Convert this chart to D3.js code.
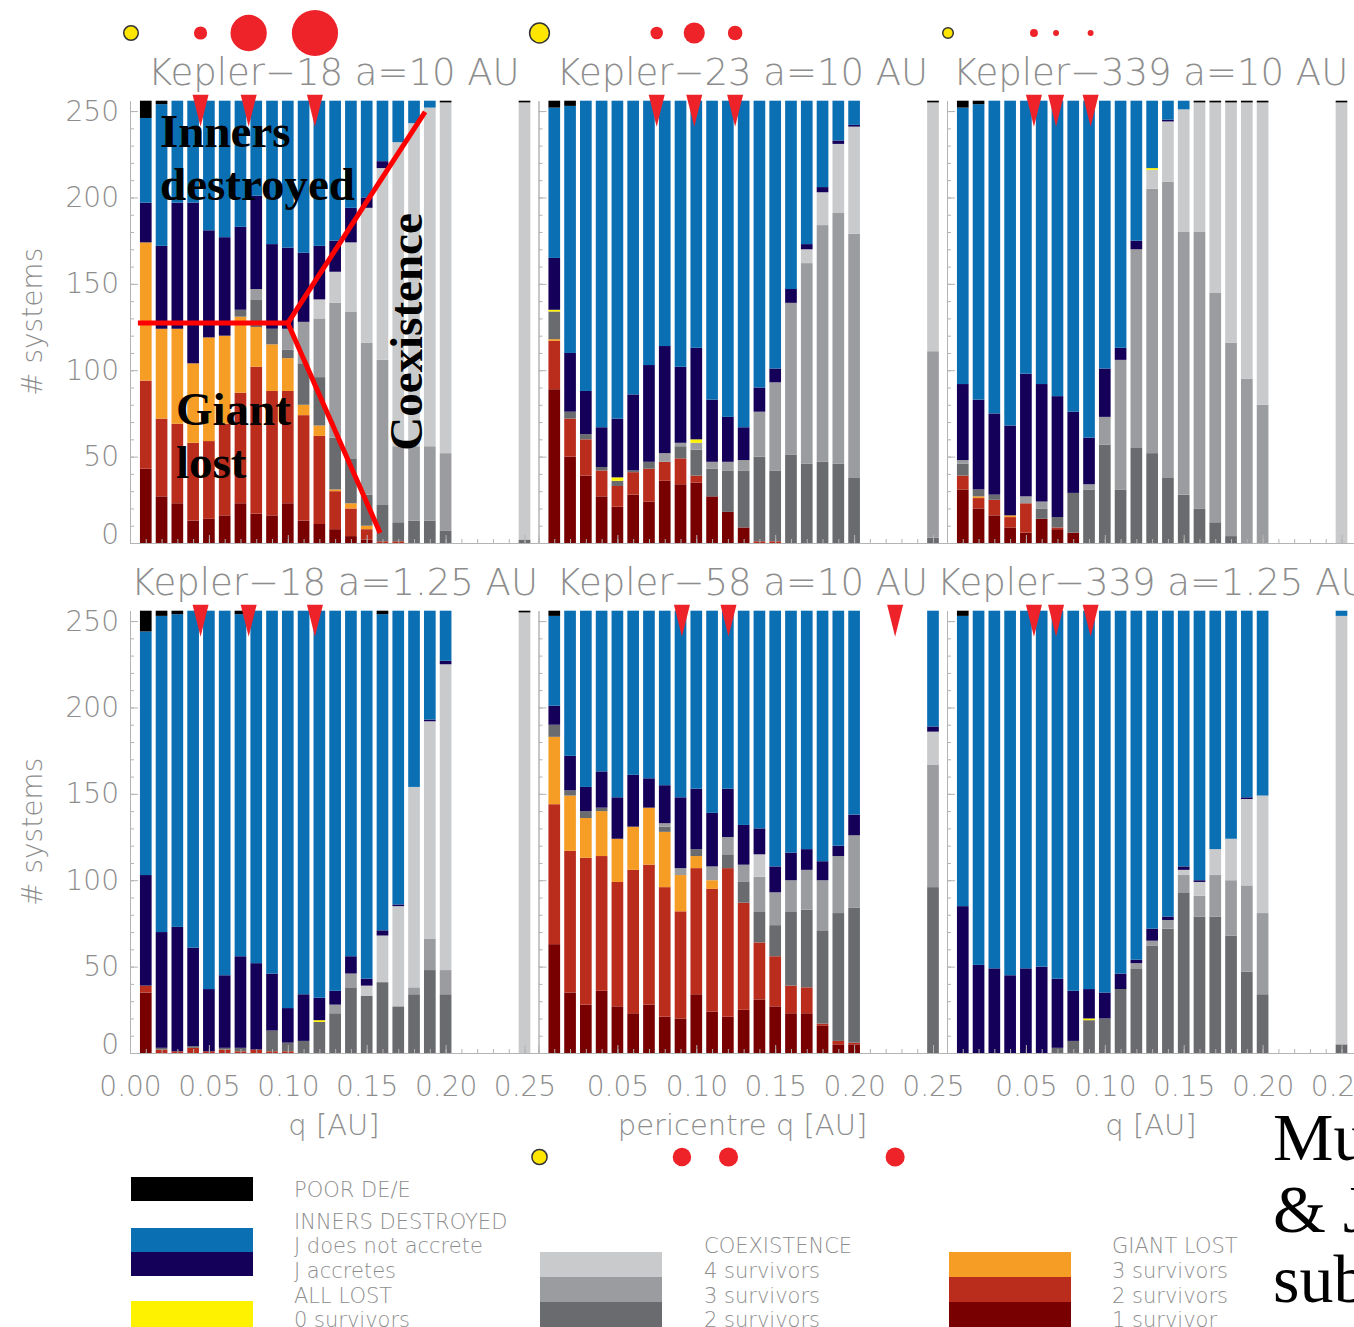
<!DOCTYPE html>
<html>
<head>
<meta charset="utf-8">
<script src="https://cdn.jsdelivr.net/npm/d3@7"></script>
<style>
	body { margin: 0; background: #fff; }
	svg { display: block; }
</style>
</head>
<body>
<div id="chart"></div>
<script>
// bins in pericentre q [AU]; the last one is the separate reference bar
const qBins = [0.01, 0.02, 0.03, 0.04, 0.05, 0.06, 0.07, 0.08, 0.09, 0.10,
	0.11, 0.12, 0.13, 0.14, 0.15, 0.16, 0.17, 0.18, 0.19, 0.20, 0.25];

// stack order, bottom to top
const keys = ['giant1', 'giant2', 'giant3', 'coex2', 'coex3', 'coex4', 'allLost', 'jAccretes', 'jNoAccrete', 'poor'];

const yTicks = [0, 50, 100, 150, 200, 250];
const xTicks = [0, 0.05, 0.10, 0.15, 0.20, 0.25];

// number of systems per bin: [giant1, giant2, giant3, coex2, coex3, coex4, allLost, jAccretes, jNoAccrete, poor]
const k18a10 = [
	[43, 51, 80, 0, 0, 0, 0, 23, 49, 10],
	[27, 45, 52, 0, 0, 0, 0, 48, 82, 2],
	[23, 46, 55, 0, 0, 0, 0, 73, 59, 0],
	[13, 45, 46, 0, 0, 0, 0, 93, 59, 0],
	[14, 45, 60, 0, 0, 0, 0, 62, 75, 0],
	[16, 53, 51, 0, 0, 0, 0, 57, 79, 0],
	[23, 64, 44, 4, 0, 0, 0, 48, 73, 0],
	[17, 85, 23, 16, 6, 0, 0, 54, 55, 0],
	[16, 72, 27, 9, 0, 0, 0, 49, 83, 0],
	[23, 65, 19, 5, 12, 0, 0, 47, 85, 0],
	[13, 61, 6, 24, 24, 0, 0, 40, 88, 0],
	[11, 51, 6, 28, 34, 11, 0, 31, 84, 0],
	[8, 22, 1, 30, 78, 18, 0, 18, 81, 0],
	[4, 16, 3, 26, 85, 40, 0, 20, 62, 0],
	[2, 6, 2, 18, 88, 78, 0, 6, 56, 0],
	[0, 1, 0, 21, 84, 111, 0, 4, 35, 0],
	[0, 1, 0, 11, 44, 176, 0, 0, 24, 0],
	[0, 0, 0, 13, 43, 187, 0, 0, 13, 0],
	[0, 0, 0, 13, 43, 196, 0, 0, 4, 0],
	[0, 0, 0, 7, 45, 203, 0, 0, 0, 1],
	[0, 0, 0, 2, 0, 253, 0, 0, 0, 1]
];
const k23a10 = [
	[89, 28, 1, 16, 0, 0, 1, 30, 87, 4],
	[50, 22, 0, 4, 0, 0, 0, 34, 143, 3],
	[39, 21, 0, 3, 0, 0, 0, 25, 168, 0],
	[27, 15, 0, 2, 0, 0, 0, 23, 189, 0],
	[21, 12, 0, 3, 0, 0, 2, 34, 184, 0],
	[28, 13, 0, 1, 0, 0, 0, 44, 170, 0],
	[24, 19, 0, 4, 0, 0, 0, 56, 153, 0],
	[36, 11, 0, 0, 5, 0, 0, 62, 142, 0],
	[34, 15, 0, 7, 2, 0, 0, 44, 154, 0],
	[35, 4, 0, 15, 4, 0, 2, 53, 143, 0],
	[27, 0, 0, 16, 4, 0, 0, 36, 173, 0],
	[18, 0, 0, 24, 5, 0, 0, 26, 183, 0],
	[9, 0, 0, 33, 6, 0, 0, 19, 189, 0],
	[0, 1, 0, 49, 26, 0, 0, 14, 166, 0],
	[0, 1, 0, 41, 51, 0, 0, 8, 155, 0],
	[0, 0, 0, 51, 88, 0, 0, 8, 109, 0],
	[0, 0, 0, 46, 116, 8, 0, 3, 83, 0],
	[0, 0, 0, 47, 137, 19, 0, 3, 50, 0],
	[0, 0, 0, 46, 145, 40, 0, 2, 23, 0],
	[0, 0, 0, 38, 141, 62, 0, 1, 14, 0],
	[0, 0, 0, 3, 108, 144, 0, 0, 0, 1]
];
const k339a10 = [
	[31, 8, 0, 7, 2, 0, 0, 44, 160, 4],
	[20, 6, 1, 4, 0, 0, 0, 52, 171, 2],
	[16, 9, 0, 3, 0, 0, 0, 47, 181, 0],
	[9, 6, 1, 0, 0, 0, 0, 52, 188, 0],
	[6, 17, 0, 0, 4, 0, 0, 71, 158, 0],
	[14, 0, 0, 6, 4, 0, 0, 68, 164, 0],
	[8, 1, 0, 6, 0, 0, 0, 70, 171, 0],
	[6, 0, 0, 23, 0, 0, 0, 47, 180, 0],
	[0, 0, 0, 31, 3, 0, 0, 27, 195, 0],
	[0, 0, 0, 57, 16, 0, 0, 28, 155, 0],
	[0, 0, 0, 31, 75, 0, 0, 7, 143, 0],
	[0, 0, 0, 55, 115, 0, 0, 5, 81, 0],
	[0, 0, 0, 52, 153, 11, 1, 0, 39, 0],
	[0, 0, 0, 38, 171, 35, 0, 1, 11, 0],
	[0, 0, 0, 28, 152, 71, 0, 0, 5, 0],
	[0, 0, 0, 20, 160, 75, 0, 0, 0, 1],
	[0, 0, 0, 12, 133, 110, 0, 0, 0, 1],
	[0, 0, 0, 4, 112, 139, 0, 0, 0, 1],
	[0, 0, 0, 0, 95, 160, 0, 0, 0, 1],
	[0, 0, 0, 0, 80, 175, 0, 0, 0, 1],
	[0, 0, 0, 0, 0, 255, 0, 0, 0, 1]
];
const k18a125 = [
	[35, 4, 0, 0, 0, 0, 0, 64, 141, 12],
	[0, 2, 0, 1, 0, 0, 0, 67, 183, 3],
	[0, 1, 0, 0, 0, 0, 0, 72, 181, 2],
	[0, 3, 0, 1, 0, 0, 0, 57, 195, 0],
	[0, 1, 0, 0, 0, 0, 0, 36, 219, 0],
	[0, 2, 0, 1, 0, 0, 0, 42, 211, 0],
	[0, 1, 0, 2, 0, 0, 0, 53, 198, 2],
	[0, 2, 0, 0, 0, 0, 0, 50, 204, 0],
	[0, 1, 0, 12, 0, 0, 0, 33, 210, 0],
	[0, 1, 0, 5, 0, 0, 0, 20, 230, 0],
	[0, 0, 0, 7, 0, 0, 0, 27, 222, 0],
	[0, 0, 0, 18, 0, 0, 1, 13, 224, 0],
	[0, 0, 0, 23, 5, 0, 0, 8, 220, 0],
	[0, 0, 0, 38, 8, 0, 0, 10, 200, 0],
	[0, 0, 0, 33, 0, 6, 0, 4, 213, 0],
	[0, 0, 0, 41, 0, 27, 0, 3, 183, 2],
	[0, 0, 0, 27, 0, 58, 0, 1, 170, 0],
	[0, 0, 0, 34, 4, 116, 0, 0, 102, 0],
	[0, 0, 0, 48, 18, 126, 0, 1, 63, 0],
	[0, 0, 0, 34, 14, 177, 0, 2, 29, 0],
	[0, 0, 0, 0, 0, 255, 0, 0, 0, 1]
];
const k58a10 = [
	[63, 81, 39, 7, 0, 0, 0, 11, 52, 3],
	[35, 82, 32, 3, 0, 0, 0, 20, 84, 0],
	[28, 85, 23, 4, 0, 0, 0, 14, 102, 0],
	[36, 78, 26, 2, 0, 0, 0, 21, 93, 0],
	[27, 72, 25, 0, 0, 0, 0, 24, 108, 0],
	[23, 83, 25, 0, 0, 0, 0, 30, 95, 0],
	[28, 81, 33, 0, 0, 0, 0, 17, 97, 0],
	[21, 75, 32, 3, 2, 0, 0, 22, 101, 0],
	[20, 62, 21, 0, 4, 0, 0, 41, 108, 0],
	[34, 73, 7, 4, 0, 0, 0, 35, 103, 0],
	[24, 71, 5, 0, 8, 0, 0, 31, 117, 0],
	[21, 86, 0, 8, 10, 0, 0, 28, 103, 0],
	[25, 62, 0, 12, 10, 0, 0, 23, 124, 0],
	[31, 33, 0, 18, 20, 13, 0, 15, 126, 0],
	[27, 29, 0, 18, 19, 0, 0, 15, 148, 0],
	[23, 16, 0, 43, 18, 0, 0, 16, 140, 0],
	[23, 15, 0, 45, 23, 0, 0, 12, 138, 0],
	[16, 1, 0, 54, 29, 0, 0, 11, 145, 0],
	[5, 2, 0, 74, 33, 0, 0, 6, 136, 0],
	[5, 1, 0, 78, 42, 0, 0, 12, 118, 0],
	[0, 0, 0, 96, 71, 19, 0, 3, 67, 0]
];
const k339a125 = [
	[0, 0, 0, 0, 0, 0, 0, 85, 168, 3],
	[0, 0, 0, 0, 0, 0, 0, 51, 205, 0],
	[0, 0, 0, 0, 0, 0, 0, 49, 207, 0],
	[0, 0, 0, 0, 0, 0, 0, 45, 211, 0],
	[0, 0, 0, 0, 0, 0, 0, 49, 207, 0],
	[0, 0, 0, 0, 0, 0, 0, 50, 206, 0],
	[0, 0, 0, 3, 0, 0, 0, 40, 213, 0],
	[0, 0, 0, 7, 0, 0, 0, 29, 220, 0],
	[0, 0, 0, 19, 0, 0, 1, 17, 219, 0],
	[0, 0, 0, 20, 0, 0, 0, 15, 221, 0],
	[0, 0, 0, 37, 0, 0, 0, 9, 210, 0],
	[0, 0, 0, 49, 3, 0, 0, 2, 202, 0],
	[0, 0, 0, 62, 3, 0, 0, 7, 184, 0],
	[0, 0, 0, 72, 5, 0, 0, 2, 177, 0],
	[0, 0, 0, 93, 10, 3, 0, 2, 148, 0],
	[0, 0, 0, 79, 12, 8, 0, 1, 156, 0],
	[0, 0, 0, 79, 24, 15, 0, 0, 138, 0],
	[0, 0, 0, 68, 32, 24, 0, 0, 132, 0],
	[0, 0, 0, 47, 50, 50, 0, 1, 108, 0],
	[0, 0, 0, 34, 47, 68, 0, 0, 107, 0],
	[0, 0, 0, 5, 0, 248, 0, 0, 3, 0]
];

// planets: semi-major axis [AU], radius [R_earth]; star radius [R_sun]
const k18Planets = [0.0447, 0.0752, 0.1172];
const k18Radii = [2.0, 5.5, 7.0];
const k23Planets = [0.0749, 0.0987, 0.1246];
const k23Radii = [1.9, 3.2, 2.2];
const k339Planets = [0.0551, 0.0691, 0.0910];
const k339Radii = [1.2, 0.9, 0.9];
const k58Planets = [0.0909, 0.1204, 0.226];
const k58Radii = [2.8, 2.9, 2.9];
const starRadii = { k18: 1.1, k23: 1.5, k339: 0.8, k58: 1.15 };

// regime boundaries drawn in the first panel [q, # systems]
const splitLines = [
	[[0.005, 127.3], [0.1, 127.3]],
	[[0.1, 127.3], [0.187, 249.5]],
	[[0.1, 127.3], [0.1585, 5.8]]
];

const colours = {
	giant1: '#780000', giant2: '#ba2d1c', giant3: '#f59d25',
	coex2: '#6a6b6e', coex3: '#9b9c9f', coex4: '#c9cacc',
	allLost: '#fff200', jAccretes: '#140058', jNoAccrete: '#0b6fb4', poor: '#000000'
};

const W = 1354, H = 1327;
const colX0 = [130, 538.5, 947];
const rows = [{ bottom: 543, top: 100.7 }, { bottom: 1053, top: 610.7 }];
const panelW = 408;
const txtFont = 'DejaVu Sans';
const txtCol = '#8d8d8d';
const axisCol = '#b4b4b4';

const panels = [
	{ title: 'Kepler\u221218 a=10 AU', data: k18a10, col: 0, row: 0, tdx: 18, planets: k18Planets, radii: k18Radii, star: starRadii.k18, dots: 33 },
	{ title: 'Kepler\u221223 a=10 AU', data: k23a10, col: 1, row: 0, tdx: 18, planets: k23Planets, radii: k23Radii, star: starRadii.k23, dots: 33 },
	{ title: 'Kepler\u2212339 a=10 AU', data: k339a10, col: 2, row: 0, tdx: 6, planets: k339Planets, radii: k339Radii, star: starRadii.k339, dots: 33 },
	{ title: 'Kepler\u221218 a=1.25 AU', data: k18a125, col: 0, row: 1, tdx: 1, planets: k18Planets, radii: k18Radii, xTitle: 'q [AU]' },
	{ title: 'Kepler\u221258 a=10 AU', data: k58a10, col: 1, row: 1, tdx: 18, planets: k58Planets, radii: k58Radii, star: starRadii.k58, dots: 1157, xTitle: 'pericentre q [AU]' },
	{ title: 'Kepler\u2212339 a=1.25 AU', data: k339a125, col: 2, row: 1, tdx: -10, planets: k339Planets, radii: k339Radii, xTitle: 'q [AU]' }
];

let svg = d3.select('#chart').append('svg')
	.attr('width', W)
	.attr('height', H)
	.style('background', '#fff');

let stack = d3.stack().keys(keys);
let rPlanet = d3.scaleLinear().domain([0, 1]).range([0, 3.3]);
let rStar = d3.scaleLinear().domain([0, 1]).range([0, 6.6]);

panels.forEach(p => {
	let x0 = colX0[p.col];
	let rw = rows[p.row];
	let x = d3.scaleLinear().domain([0, panelW / 1578]).range([x0, x0 + panelW]);
	let y = d3.scaleLinear().domain([0, 256]).range([rw.bottom, rw.top]);
	let bw = x(0.0074) - x(0);
	let g = svg.append('g').attr('class', 'panel');

	let table = p.data.map((r, i) => {
		let o = { q: qBins[i] };
		keys.forEach((k, j) => { o[k] = r[j]; });
		return o;
	});
	let series = stack(table);

	g.selectAll('g.layer')
		.data(series)
		.enter()
		.append('g')
		.attr('class', 'layer')
		.attr('fill', d => colours[d.key])
		.selectAll('rect')
		.data(d => d.filter(s => s[1] > s[0]))
		.enter()
		.append('rect')
		.attr('x', d => x(d.data.q) - bw / 2)
		.attr('y', d => y(d[1]))
		.attr('width', bw)
		.attr('height', d => y(d[0]) - y(d[1]));

	// axes (ticks point inward like IDL)
	let axesG = g.append('g').attr('class', 'axes');
	axesG.append('g')
		.attr('transform', `translate(${x0},0)`)
		.call(d3.axisLeft(y).tickValues(d3.range(0, 256, 10)).tickSizeInner(-4).tickSizeOuter(0).tickFormat(''));
	let yAx = axesG.append('g')
		.attr('transform', `translate(${x0},0)`)
		.call(d3.axisLeft(y).tickValues(yTicks).tickSizeInner(-8).tickSizeOuter(0).tickPadding(11));
	axesG.append('g')
		.attr('transform', `translate(0,${rw.bottom})`)
		.call(d3.axisBottom(x).tickValues(d3.range(0, 0.2585, 0.01)).tickSizeInner(-4).tickSizeOuter(0).tickFormat(''));
	let xAx = axesG.append('g')
		.attr('transform', `translate(0,${rw.bottom})`)
		.call(d3.axisBottom(x).tickValues(xTicks).tickSizeInner(-8).tickSizeOuter(0).tickPadding(23).tickFormat(d3.format('.2f')));
	axesG.selectAll('path.domain, line').attr('stroke', axisCol);
	axesG.selectAll('text').attr('fill', txtCol).attr('font-family', txtFont).attr('font-weight', 200).attr('font-size', '28px');

	if (p.col !== 0) yAx.selectAll('text').remove();
	yAx.selectAll('text').filter(d => d === 0).attr('dy', '0.0em');
	if (p.row === 0) xAx.selectAll('text').remove();
	if (p.col !== 0) xAx.selectAll('text').filter(d => d === 0).remove();

	// title
	g.append('text')
		.attr('x', x0 + p.tdx)
		.attr('y', p.row === 0 ? 85 : 595)
		.attr('font-family', txtFont)
		.attr('font-weight', 200)
		.attr('font-size', '37px')
		.attr('fill', txtCol)
		.text(p.title);

	if (p.xTitle) {
		g.append('text')
			.attr('x', x0 + 204)
			.attr('y', 1135)
			.attr('text-anchor', 'middle')
			.attr('font-family', txtFont)
			.attr('font-weight', 200)
			.attr('font-size', '29px')
			.attr('fill', txtCol)
			.text(p.xTitle);
	}
	if (p.col === 0) {
		g.append('text')
			.attr('transform', `translate(42,${(rw.top + rw.bottom) / 2}) rotate(-90)`)
			.attr('text-anchor', 'middle')
			.attr('font-family', txtFont)
			.attr('font-weight', 200)
			.attr('font-size', '28px')
			.attr('fill', txtCol)
			.text('# systems');
	}

	// planet positions
	let triTop = rw.top - 6;
	g.selectAll('path.tri')
		.data(p.planets)
		.enter()
		.append('path')
		.attr('class', 'tri')
		.attr('d', d => `M${x(d) - 8},${triTop}L${x(d) + 8},${triTop}L${x(d)},${triTop + 32}Z`)
		.attr('fill', '#ee2229');

	if (p.dots) {
		g.append('circle')
			.attr('cx', x(0) + 1)
			.attr('cy', p.dots)
			.attr('r', rStar(p.star))
			.attr('fill', '#ffe600')
			.attr('stroke', '#333')
			.attr('stroke-width', 1.5);
		g.selectAll('circle.planet')
			.data(p.planets)
			.enter()
			.append('circle')
			.attr('class', 'planet')
			.attr('cx', d => x(d))
			.attr('cy', p.dots)
			.attr('r', (d, i) => rPlanet(p.radii[i]))
			.attr('fill', '#ee2229');
	}

	if (p.col === 0 && p.row === 0) {
		let line = d3.line().x(d => x(d[0])).y(d => y(d[1]));
		g.selectAll('path.split')
			.data(splitLines)
			.enter()
			.append('path')
			.attr('class', 'split')
			.attr('d', line)
			.attr('stroke', '#ff0000')
			.attr('stroke-width', 5)
			.attr('fill', 'none');
	}
});

// annotations on the first panel
let ann = svg.append('g')
	.attr('font-family', 'Liberation Serif')
	.attr('font-weight', 'bold')
	.attr('font-size', '47px')
	.attr('fill', '#000');
ann.append('text').attr('x', 160).attr('y', 147).text('Inners');
ann.append('text').attr('x', 160).attr('y', 200).text('destroyed');
ann.append('text').attr('x', 176).attr('y', 425).text('Giant');
ann.append('text').attr('x', 176).attr('y', 478).text('lost');
ann.append('text')
	.attr('transform', 'translate(422,332) rotate(-90)')
	.attr('text-anchor', 'middle')
	.text('Coexistence');

// legend
const legendCols = [
	{ x: 131, tx: 294, boxes: [['poor', 1177, 1201], ['jNoAccrete', 1228, 1252], ['jAccretes', 1252, 1276], ['allLost', 1301, 1327]],
		labels: ['POOR DE/E', 'INNERS DESTROYED', 'J does not accrete', 'J accretes', 'ALL LOST', '0 survivors'],
		ly: [1197, 1229, 1253, 1278, 1303, 1327] },
	{ x: 540, tx: 704, boxes: [['coex4', 1252, 1277], ['coex3', 1277, 1302], ['coex2', 1302, 1327]],
		labels: ['COEXISTENCE', '4 survivors', '3 survivors', '2 survivors'],
		ly: [1253, 1278, 1303, 1327] },
	{ x: 949, tx: 1112, boxes: [['giant3', 1252, 1277], ['giant2', 1277, 1302], ['giant1', 1302, 1327]],
		labels: ['GIANT LOST', '3 survivors', '2 survivors', '1 survivor'],
		ly: [1253, 1278, 1303, 1327] }
];
let leg = svg.append('g').attr('class', 'legend');
legendCols.forEach(c => {
	leg.selectAll(null)
		.data(c.boxes)
		.enter()
		.append('rect')
		.attr('x', c.x)
		.attr('y', d => d[1])
		.attr('width', 122)
		.attr('height', d => d[2] - d[1])
		.attr('fill', d => colours[d[0]]);
	leg.selectAll(null)
		.data(c.labels)
		.enter()
		.append('text')
		.attr('x', c.tx)
		.attr('y', (d, i) => c.ly[i])
		.attr('font-family', txtFont)
		.attr('font-weight', 200)
		.attr('font-size', '21px')
		.attr('fill', txtCol)
		.text(d => d);
});

// caption fragment at the right edge
let cap = svg.append('g')
	.attr('font-family', 'Liberation Serif')
	.attr('font-size', '68px')
	.attr('fill', '#000');
cap.append('text').attr('x', 1273).attr('y', 1160).text('Mu');
cap.append('text').attr('x', 1273).attr('y', 1232).text('& J');
cap.append('text').attr('x', 1273).attr('y', 1302).text('sub');
</script>
</body>
</html>
